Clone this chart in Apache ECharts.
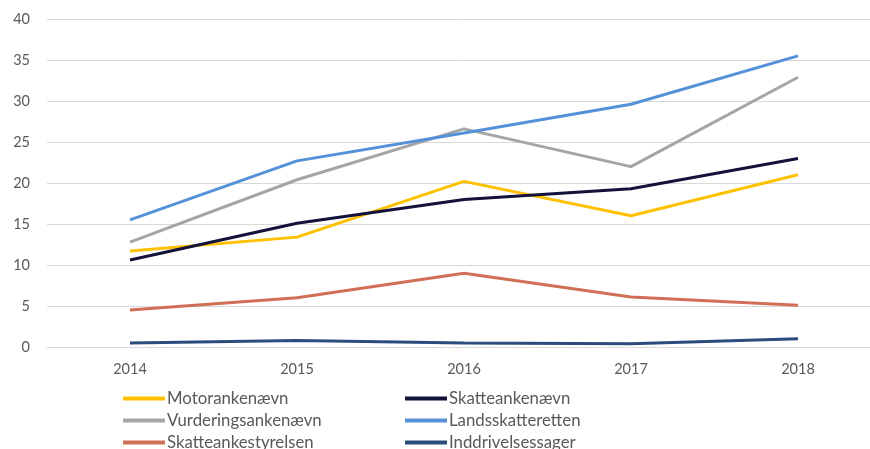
<!DOCTYPE html>
<html>
<head>
<meta charset="utf-8">
<script src="https://cdn.jsdelivr.net/npm/echarts@6/dist/echarts.min.js"></script>
<style>
  html, body { margin: 0; padding: 0; background: #fff; }
  #chart { width: 870px; height: 449px; }
</style>
</head>
<body>
<div id="chart"></div>
<script>
const years = ["2014", "2015", "2016", "2017", "2018"];
const motorankenaevn = [11.7, 13.4, 20.2, 16.0, 21.0];
const skatteankenaevn = [10.6, 15.1, 18.0, 19.3, 23.0];
const vurderingsankenaevn = [12.8, 20.4, 26.6, 22.0, 32.9];
const landsskatteretten = [15.5, 22.7, 26.1, 29.6, 35.5];
const skatteankestyrelsen = [4.5, 6.0, 9.0, 6.1, 5.1];
const inddrivelsessager = [0.5, 0.8, 0.5, 0.4, 1.0];

const font = "Lato";
const textColor = "#595959";

const series = [
  { name: "Motorankenævn", data: motorankenaevn, color: "#FFC000" },
  { name: "Skatteankenævn", data: skatteankenaevn, color: "#12123A" },
  { name: "Vurderingsankenævn", data: vurderingsankenaevn, color: "#A5A5A5" },
  { name: "Landsskatteretten", data: landsskatteretten, color: "#5591D9" },
  { name: "Skatteankestyrelsen", data: skatteankestyrelsen, color: "#D06F55" },
  { name: "Inddrivelsessager", data: inddrivelsessager, color: "#2B4C7C" }
].map(s => ({
  name: s.name,
  type: "line",
  data: s.data,
  color: s.color,
  symbol: "none",
  lineStyle: { width: 3, color: s.color },
  xAxisIndex: 0,
  yAxisIndex: 0,
  animation: false
}));

const legendBase = {
  orient: "vertical",
  top: 390,
  height: 80,
  padding: 0,
  itemWidth: 42,
  itemHeight: 4,
  itemGap: 5,
  icon: "rect",
  textStyle: { fontFamily: font, fontSize: 16.8, color: textColor, padding: [0, 0, 0, -3] }
};

const chart = echarts.init(document.getElementById("chart"), null, { renderer: "canvas" });
chart.setOption({
  backgroundColor: "#fff",
  grid: [
    // plot grid: categories sit on its edges
    { left: 130, right: 72, top: 19, bottom: 102 },
    // background grid for the gridlines and value labels
    { left: 47, right: 0, top: 19, bottom: 102 }
  ],
  legend: [
    Object.assign({}, legendBase, { left: 123, data: ["Motorankenævn", "Vurderingsankenævn", "Skatteankestyrelsen"] }),
    Object.assign({}, legendBase, { left: 405, data: ["Skatteankenævn", "Landsskatteretten", "Inddrivelsessager"] })
  ],
  xAxis: [
    {
      type: "category",
      gridIndex: 0,
      data: years,
      boundaryGap: false,
      axisLine: { show: false },
      axisTick: { show: false },
      splitLine: { show: false },
      axisLabel: { fontFamily: font, fontSize: 14.5, color: textColor, margin: 15 }
    },
    {
      type: "value",
      gridIndex: 1,
      min: 0,
      max: 1,
      axisLine: { show: true, lineStyle: { color: "#D9D9D9", width: 1 } },
      axisTick: { show: false },
      axisLabel: { show: false },
      splitLine: { show: false }
    }
  ],
  yAxis: [
    {
      type: "value",
      gridIndex: 0,
      min: 0,
      max: 40,
      interval: 5,
      axisLine: { show: false },
      axisTick: { show: false },
      axisLabel: { show: false },
      splitLine: { show: false }
    },
    {
      type: "value",
      gridIndex: 1,
      min: 0,
      max: 40,
      interval: 5,
      z: 0,
      axisLine: { show: false },
      axisTick: { show: false },
      splitLine: { lineStyle: { color: "#D9D9D9", width: 1 } },
      axisLabel: { fontFamily: font, fontSize: 14.5, color: textColor, margin: 17 }
    }
  ],
  series: series
});
</script>
</body>
</html>
